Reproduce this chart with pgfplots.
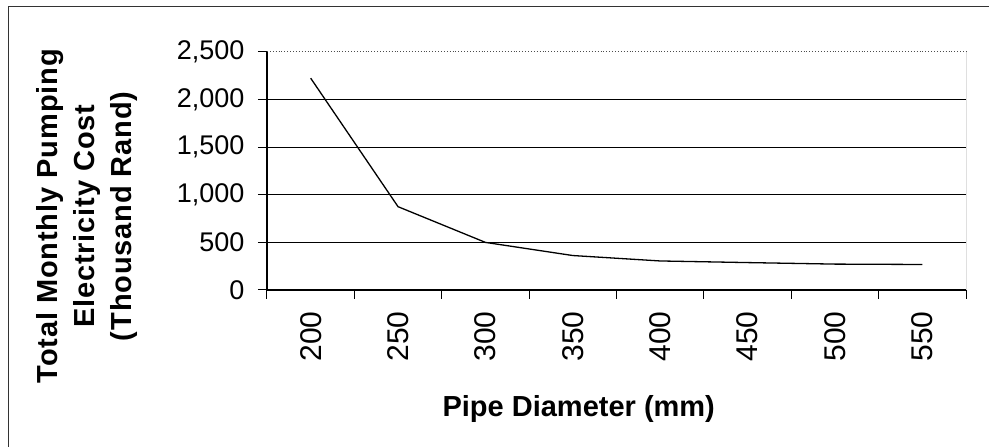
\documentclass[border=0pt]{standalone}
\usepackage{fontspec}
\setmainfont{Liberation Sans}
\usepackage{pgfplots}
\pgfplotsset{compat=1.18}
\begin{document}
\begin{tikzpicture}[x=1pt,y=1pt]
\path[use as bounding box] (0,0) rectangle (989,447);
\draw[line width=1pt, black!80] (8,0) -- (8,440) -- (989,440);
\begin{axis}[
  at={(267pt,157pt)}, anchor=south west,
  width=699pt, height=238pt, scale only axis,
  xmin=-0.5, xmax=7.5, ymin=0, ymax=2500,
  axis x line*=bottom, axis y line*=left,
  axis line style={black, line width=1.2pt},
  xtick={-0.5,0.5,...,7.5}, xticklabels={},
  extra x ticks={0,1,2,3,4,5,6,7},
  extra x tick labels={200,250,300,350,400,450,500,550},
  extra x tick style={major tick length=0pt},
  ytick={0,500,1000,1500,2000},
  extra y ticks={2500},
  extra y tick style={grid style={dotted, black!70, line width=1pt}},
  ymajorgrids, grid style={black, line width=0.9pt},
  tick align=outside, major tick length=9pt,
  tick style={black, line width=1pt},
  /pgf/number format/.cd, 1000 sep={,}, assume math mode=true, /pgfplots/.cd,
  yticklabel style={font=\fontsize{27}{27}\selectfont, xshift=-10pt},
  xticklabel style={font=\fontsize{30}{30}\selectfont, yshift=-18pt, rotate=90, anchor=east},
  ylabel={Total Monthly Pumping\\Electricity Cost\\(Thousand Rand)},
  ylabel style={at={(axis description cs:-0.2575,0.31)}, anchor=center, align=center, font=\bfseries\fontsize{29}{37}\selectfont\addfontfeatures{LetterSpace=3}},
  xlabel={Pipe Diameter (mm)},
  xlabel style={at={(axis description cs:0.446,-0.53)}, anchor=base, font=\bfseries\fontsize{29}{29}\selectfont},
]
\addplot[black, line width=1.3pt] coordinates {(0,2225)(1,875)(2,500)(3,362)(4,305)(5,288)(6,272)(7,268)};
\draw[black, line width=1pt] (rel axis cs:1,0) -- (rel axis cs:1,1);
\end{axis}
\end{tikzpicture}
\end{document}
